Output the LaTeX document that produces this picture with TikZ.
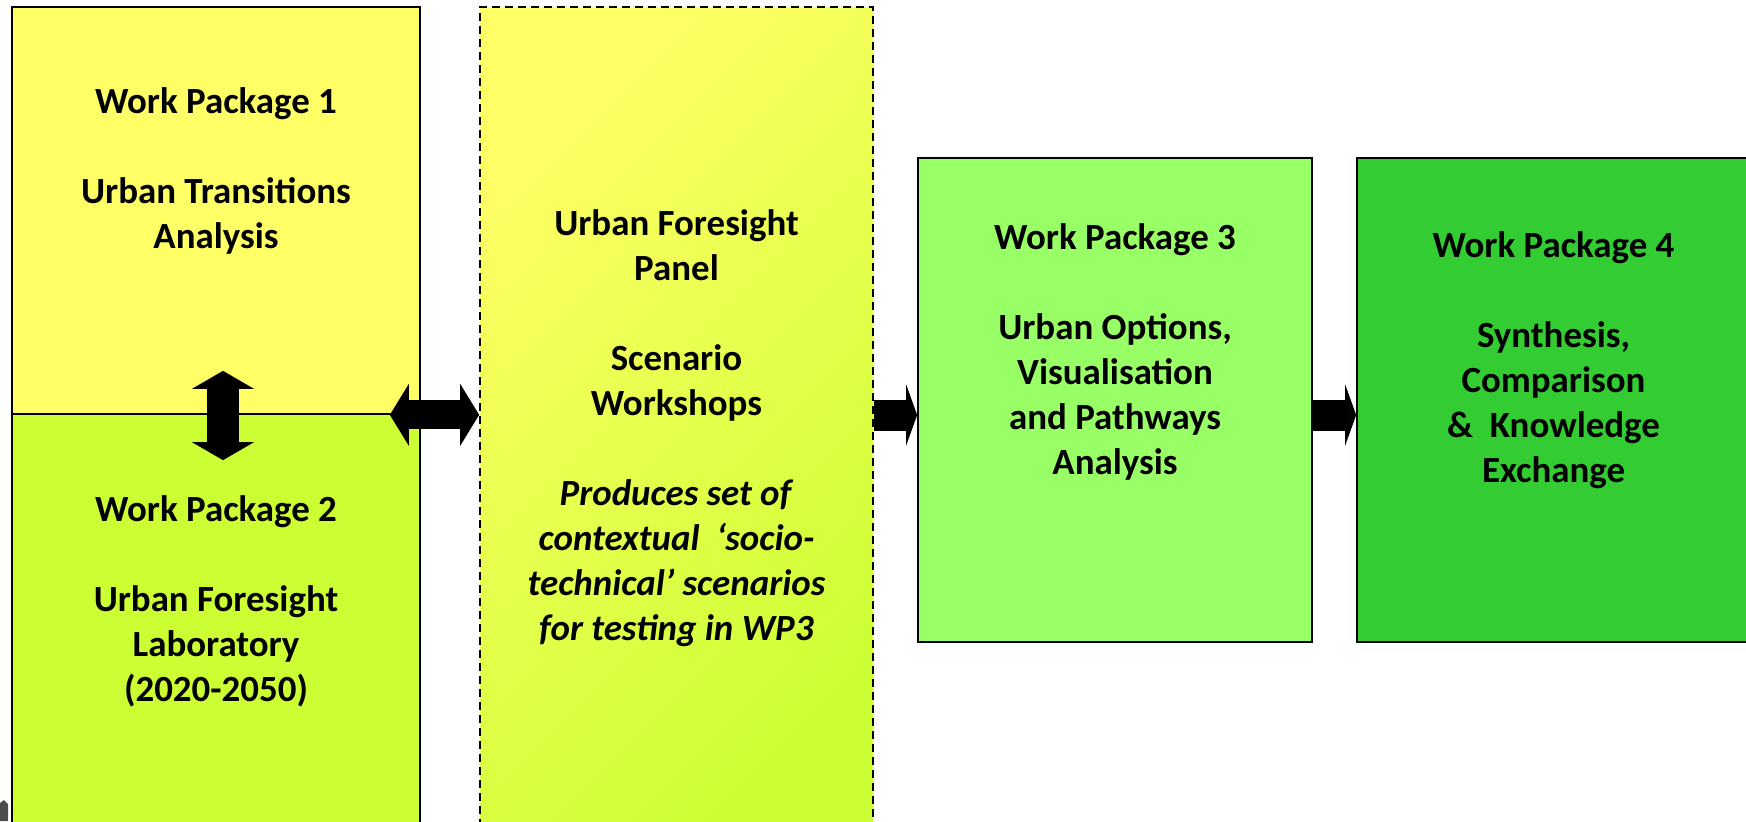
\documentclass[tikz,border=0pt]{standalone}
\usepackage{fontspec}
\setmainfont{Carlito}
\usetikzlibrary{arrows.meta, positioning}

\definecolor{wpyellow}{HTML}{FFFF66}
\definecolor{wplime}{HTML}{CCFF33}
\definecolor{wplight}{HTML}{99FF66}
\definecolor{wpgreen}{HTML}{33CC33}

\begin{document}
\begin{tikzpicture}[x=0.02cm, y=-0.02cm]
        \tikzstyle{every node}=[inner sep=0pt]
        \tikzstyle{wpbox}=[draw, line width=1pt, rectangle]
        \tikzstyle{wptext}=[align=center, font=\fontsize{21}{25.6}\selectfont\bfseries]
        \tikzstyle{vdouble}=[line width=0.64cm,
            {Triangle[length=0.36cm, width=1.24cm, line width=0pt]}-{Triangle[length=0.36cm, width=1.24cm, line width=0pt]}]
        \tikzstyle{hdouble}=[line width=0.58cm,
            {Triangle[length=0.38cm, width=1.24cm, line width=0pt]}-{Triangle[length=0.38cm, width=1.24cm, line width=0pt]}]
        \tikzstyle{fatarrow}=[line width=0.62cm, -{Triangle[length=0.22cm, width=1.22cm, line width=0pt]}]

        \clip (0,0) rectangle (1746,821);

        % boxes
        \node   (wp1)   [wpbox, fill=wpyellow, minimum width=8.16cm, minimum height=8.14cm] at (216,210.5) {};
        \node   (wp2)   [wpbox, fill=wplime, minimum width=8.16cm, minimum height=8.52cm] at (216,627) {};
        \node   (panel) [wpbox, dash pattern=on 0.16cm off 0.1cm, top color=wpyellow, bottom color=wplime,
                         shading angle=45, minimum width=7.86cm, minimum height=16.66cm] at (676.5,423.5) {};
        \node   (wp3)   [wpbox, fill=wplight, minimum width=7.88cm, minimum height=9.68cm] at (1115,400) {};
        \node   (wp4)   [wpbox, fill=wpgreen, minimum width=8.06cm, minimum height=9.68cm] at (1558.5,400) {};

        % texts
        \node   (wp1txt)   [wptext, below=1.62cm of wp1.north]
            {Work Package 1\\[25.6pt]Urban Transitions\\Analysis};
        \node   (wp2txt)   [wptext, below=1.64cm of wp2.north]
            {Work Package 2\\[25.6pt]Urban Foresight\\Laboratory\\(2020-2050)};
        \node   (paneltxt) [wptext, below=4.06cm of panel.north]
            {Urban Foresight\\Panel\\[25.6pt]Scenario\\Workshops\\[25.6pt]
             \textit{Produces set of}\\\textit{contextual\ \ ‘socio-}\\
             \textit{technical’ scenarios}\\\textit{for testing in WP3}};
        \node   (wp3txt)   [wptext, below=1.32cm of wp3.north]
            {Work Package 3\\[25.6pt]Urban Options,\\Visualisation\\and Pathways\\Analysis};
        \node   (wp4txt)   [wptext, below=1.48cm of wp4.north, xshift=-0.1cm]
            {Work Package 4\\[25.6pt]Synthesis,\\Comparison\\\&\ \ Knowledge\\Exchange};

        % arrows
        \coordinate (flow) at (0,415);
        \draw[vdouble] ([xshift=0.14cm, yshift=0.88cm]wp1.south) -- ([xshift=0.14cm, yshift=-0.94cm]wp2.north);
        \draw[hdouble] ([xshift=-0.62cm]wp1.south east) -- (panel.west |- wp1.south east);
        \draw[fatarrow] (panel.east |- flow) -- (wp3.west |- flow);
        \draw[fatarrow] (wp3.east |- flow) -- (wp4.west |- flow);

        % corner fragment
        \fill[gray!60!black] (0,803) -- (4,800) -- (8,804) -- (8,821) -- (0,821) -- cycle;
\end{tikzpicture}
\end{document}
